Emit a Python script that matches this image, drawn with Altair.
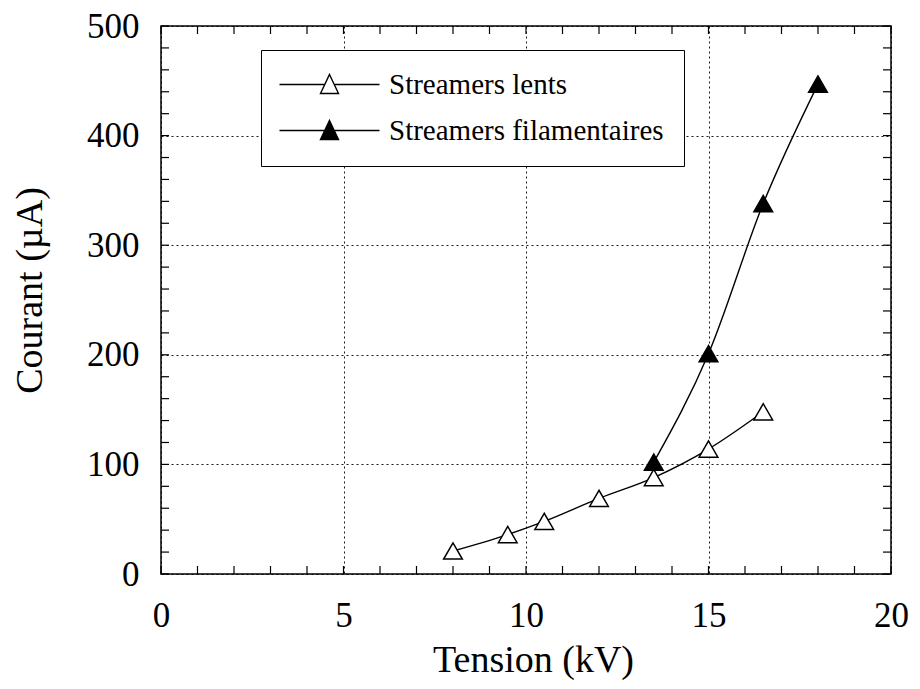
import altair as alt
import pandas as pd

# ---- data ----
series_names = ["Streamers lents", "Streamers filamentaires"]
lents_kv = [8.0, 9.5, 10.5, 12.0, 13.5, 15.0, 16.5]
lents_ua = [21, 36, 48, 69, 88, 114, 148]
fil_kv = [13.5, 15.0, 16.5, 18.0]
fil_ua = [102, 201, 338, 447]

x_major = [0, 5, 10, 15, 20]
y_major = [0, 100, 200, 300, 400, 500]
x_minor = list(range(0, 21))
y_minor = list(range(0, 501, 20))

df = pd.concat([
    pd.DataFrame({"kv": lents_kv, "ua": lents_ua, "serie": series_names[0]}),
    pd.DataFrame({"kv": fil_kv, "ua": fil_ua, "serie": series_names[1]}),
])

W, H = 730, 548
FONT = "Liberation Serif"

xenc = alt.X("kv:Q", scale=alt.Scale(domain=[0, 20], nice=False),
             axis=alt.Axis(values=x_major, title="Tension (kV)", labelPadding=24,
                           labelFlush=False, labelOverlap=False,
                           titleX=372, titleY=86, titleBaseline="middle", titleAlign="center"))
yenc = alt.Y("ua:Q", scale=alt.Scale(domain=[0, 500], nice=False),
             axis=alt.Axis(values=y_major, title="Courant (µA)", labelPadding=22,
                           labelFlush=False, labelOverlap=False,
                           titleX=-131, titleY=264, titleBaseline="middle", titleAlign="center"))

legend_path = "M-5,0H-0.47M0.47,0H5M0,-1L0.9,0.9L-0.9,0.9Z"

lines = alt.Chart(df).mark_line(interpolate="monotone", color="black", strokeWidth=1.4).encode(
    x=xenc, y=yenc, detail="serie:N"
)

points = alt.Chart(df).mark_point(shape="triangle-up", filled=True, stroke="black",
                                  strokeWidth=1.5, size=350, opacity=1).encode(
    x=xenc, y=yenc,
    fill=alt.Fill("serie:N", scale=alt.Scale(domain=series_names, range=["white", "black"]),
                  legend=alt.Legend(orient="none", legendX=100, legendY=24, title=None,
                                    symbolType=legend_path, symbolSize=400,
                                    symbolStrokeColor="black", symbolStrokeWidth=1.4,
                                    symbolOffset=34, labelOffset=45, labelLimit=500,
                                    labelFont=FONT, labelFontSize=29, labelColor="black",
                                    rowPadding=16, padding=20,
                                    strokeColor="black", fillColor="white"))
)

xt = pd.DataFrame({"kv": x_minor})
yt = pd.DataFrame({"ua": y_minor})
TL = 8
tick_top = alt.Chart(xt).mark_rule(color="black", strokeWidth=1.2).encode(
    x=xenc, y=alt.value(0), y2=alt.value(TL))
tick_bot = alt.Chart(xt).mark_rule(color="black", strokeWidth=1.2).encode(
    x=xenc, y=alt.value(H), y2=alt.value(H - TL))
tick_left = alt.Chart(yt).mark_rule(color="black", strokeWidth=1.2).encode(
    y=yenc, x=alt.value(0), x2=alt.value(TL))
tick_right = alt.Chart(yt).mark_rule(color="black", strokeWidth=1.2).encode(
    y=yenc, x=alt.value(W), x2=alt.value(W - TL))

chart = alt.layer(tick_top, tick_bot, tick_left, tick_right, lines, points).properties(
    width=W, height=H,
    autosize=alt.AutoSizeParams(type="none"),
    padding={"left": 153, "top": 18, "right": 21, "bottom": 106},
).configure_view(
    stroke="black", strokeWidth=1.5
).configure_axis(
    domain=False, ticks=False, tickSize=0,
    labelFont=FONT, labelFontSize=35, labelColor="black",
    titleFont=FONT, titleFontSize=38, titleFontWeight="normal", titleColor="black",
    gridColor="black", gridDash=[2, 3], gridOpacity=1, gridWidth=0.9,
)

chart.save("out.html", embed_options={"renderer": "svg", "actions": False})
